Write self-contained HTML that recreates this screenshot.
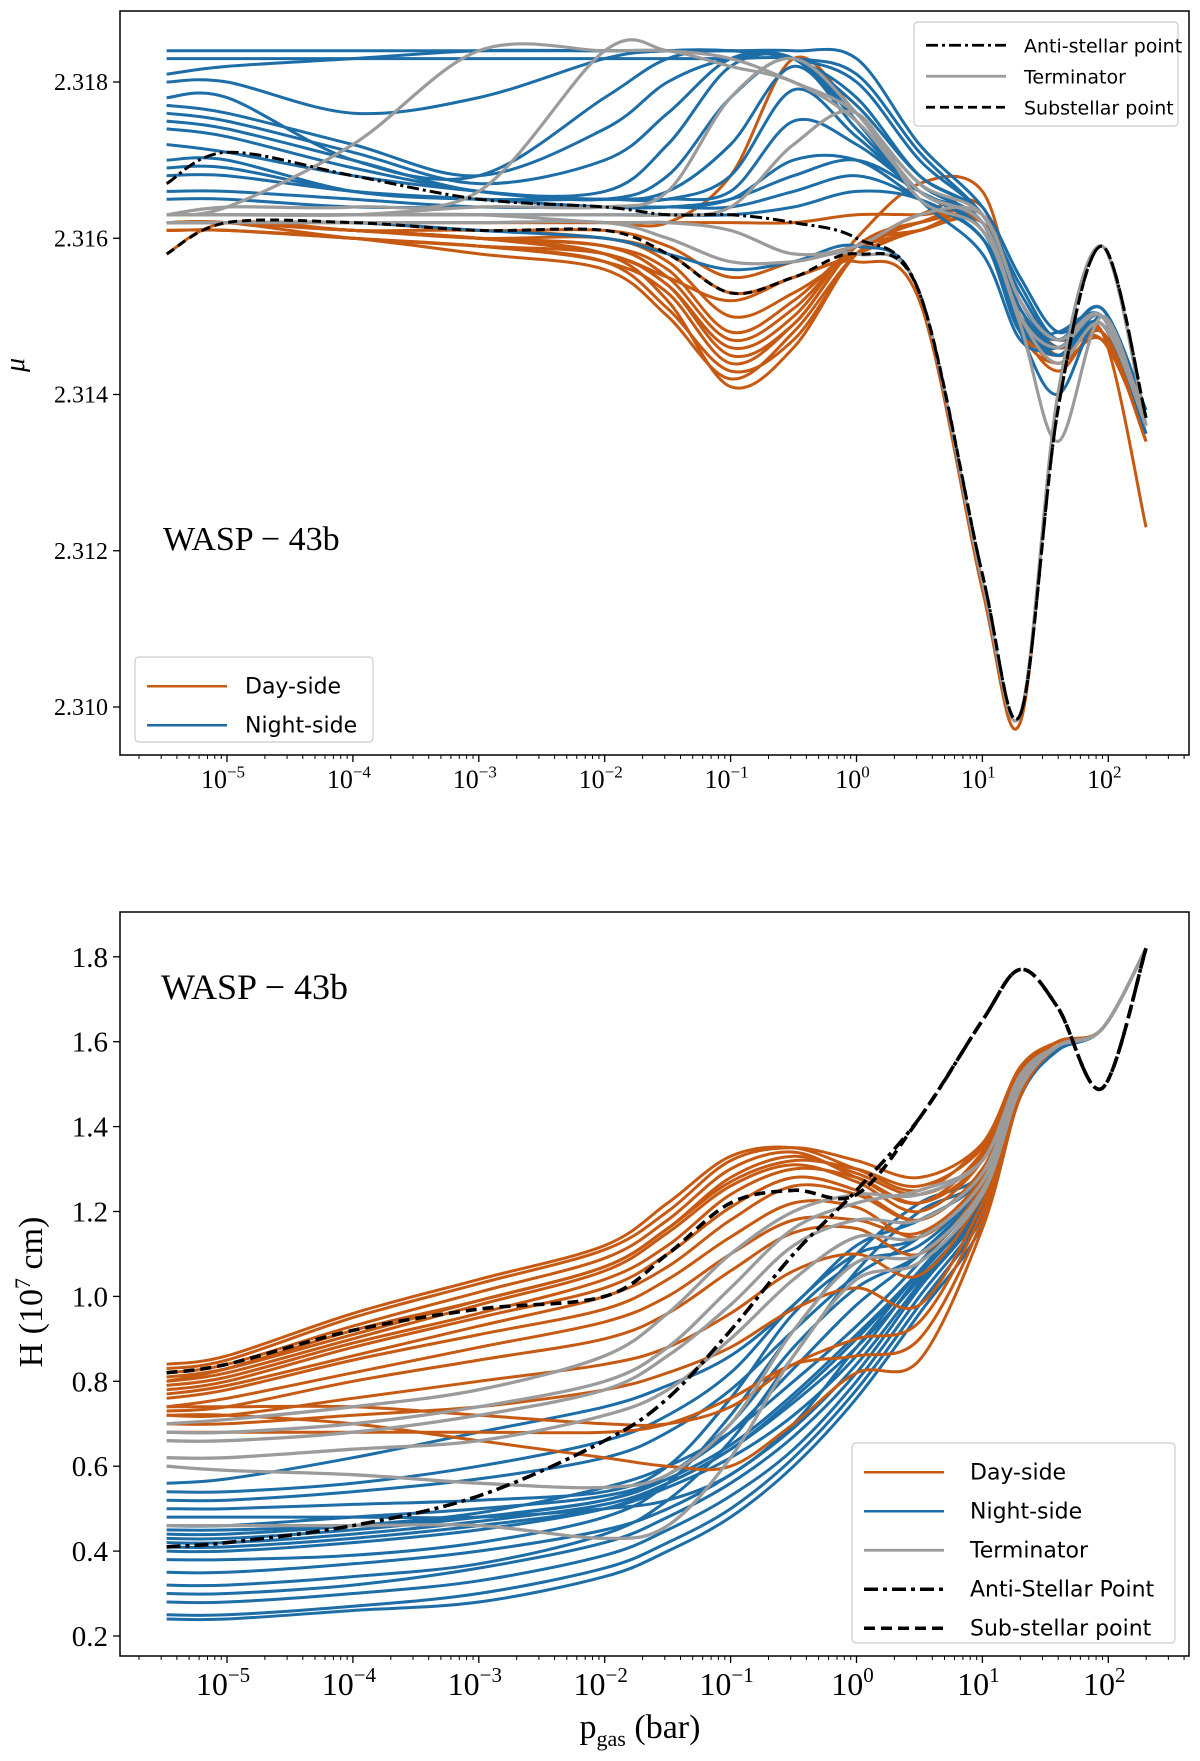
<!DOCTYPE html>
<html><head><meta charset="utf-8"><style>
body{margin:0;background:#fff;}
svg{display:block;}
text{font-family:"Liberation Serif",serif;fill:#000;}
.leg{font-family:"DejaVu Sans","Liberation Sans",sans-serif;}
</style></head><body>
<svg id="fig" width="1200" height="1761" viewBox="0 0 1200 1761" xmlns="http://www.w3.org/2000/svg"></svg>
<script>
// shared pressure grid (log10 bar)
const logP = [-5.48,-5,-4,-3,-2,-1.5,-1,-0.5,0,0.5,1,1.3,1.6,1.95,2.3];
const xTickExps = [-5,-4,-3,-2,-1,0,1,2];
// ---- top panel (mean molecular weight) ----
const muTicks = [2.310,2.312,2.314,2.316,2.318];
const muTickLabels = ["2.310","2.312","2.314","2.316","2.318"];
const muNight = [
[2.3184,2.3184,2.3184,2.3184,2.3184,2.3184,2.3184,2.3184,2.3183,2.3172,2.3164,2.3155,2.3148,2.3150,2.3137],
[2.3183,2.3183,2.3183,2.3183,2.3183,2.3183,2.3183,2.3183,2.3181,2.3171,2.3163,2.3154,2.3147,2.3150,2.3137],
[2.3181,2.3182,2.3183,2.3184,2.3184,2.3184,2.3184,2.3183,2.3180,2.3170,2.3163,2.3153,2.3147,2.3151,2.3138],
[2.3178,2.3178,2.3170,2.3168,2.3178,2.3183,2.3184,2.3183,2.3178,2.3168,2.3163,2.3152,2.3146,2.3150,2.3137],
[2.3175,2.3174,2.3170,2.3166,2.3166,2.3172,2.3182,2.3183,2.3176,2.3167,2.3162,2.3150,2.3146,2.3149,2.3136],
[2.3172,2.3171,2.3168,2.3166,2.3165,2.3166,2.3172,2.3182,2.3174,2.3166,2.3162,2.3148,2.3140,2.3150,2.3137],
[2.3170,2.3170,2.3166,2.3165,2.3165,2.3165,2.3166,2.3175,2.3172,2.3166,2.3161,2.3150,2.3145,2.3150,2.3136],
[2.3168,2.3168,2.3166,2.3165,2.3164,2.3164,2.3165,2.3168,2.3170,2.3166,2.3161,2.3149,2.3145,2.3149,2.3137],
[2.3166,2.3166,2.3165,2.3164,2.3164,2.3164,2.3164,2.3166,2.3168,2.3165,2.3160,2.3148,2.3148,2.3150,2.3138],
[2.3163,2.3163,2.3163,2.3163,2.3163,2.3163,2.3163,2.3164,2.3166,2.3165,2.3160,2.3150,2.3147,2.3150,2.3135],
[2.3177,2.3176,2.3172,2.3168,2.3174,2.3180,2.3183,2.3183,2.3175,2.3166,2.3162,2.3151,2.3146,2.3150,2.3137],
[2.3176,2.3175,2.3171,2.3167,2.3170,2.3176,2.3183,2.3183,2.3176,2.3167,2.3162,2.3151,2.3146,2.3150,2.3137],
[2.3180,2.3180,2.3176,2.3178,2.3183,2.3184,2.3184,2.3183,2.3177,2.3168,2.3163,2.3152,2.3147,2.3151,2.3137],
[2.3174,2.3173,2.3169,2.3166,2.3165,2.3168,2.3178,2.3183,2.3175,2.3165,2.3158,2.3147,2.3146,2.3149,2.3136],
[2.3169,2.3169,2.3166,2.3165,2.3165,2.3165,2.3168,2.3179,2.3173,2.3166,2.3161,2.3150,2.3145,2.3149,2.3136],
[2.3165,2.3165,2.3164,2.3164,2.3164,2.3164,2.3165,2.3170,2.3170,2.3165,2.3160,2.3149,2.3146,2.3150,2.3137],
[2.3162,2.3162,2.3162,2.3161,2.3160,2.3158,2.3156,2.3157,2.3159,2.3153,2.3116,2.3099,2.3140,2.3159,2.3136]
];
const muDay = [
[2.3162,2.3162,2.3161,2.3160,2.3158,2.3152,2.3141,2.3146,2.3158,2.3162,2.3163,2.3150,2.3145,2.3148,2.3123],
[2.3162,2.3162,2.3160,2.3159,2.3157,2.3153,2.3144,2.3149,2.3159,2.3162,2.3162,2.3148,2.3144,2.3147,2.3135],
[2.3162,2.3162,2.3161,2.3160,2.3159,2.3155,2.3147,2.3151,2.3159,2.3161,2.3162,2.3149,2.3146,2.3148,2.3134],
[2.3162,2.3162,2.3161,2.3160,2.3160,2.3157,2.3150,2.3153,2.3158,2.3161,2.3162,2.3150,2.3147,2.3147,2.3136],
[2.3162,2.3162,2.3161,2.3161,2.3160,2.3158,2.3153,2.3155,2.3158,2.3161,2.3162,2.3151,2.3145,2.3148,2.3137],
[2.3162,2.3162,2.3162,2.3161,2.3161,2.3159,2.3155,2.3157,2.3159,2.3161,2.3163,2.3150,2.3146,2.3149,2.3136],
[2.3161,2.3161,2.3160,2.3158,2.3156,2.3150,2.3142,2.3148,2.3158,2.3162,2.3163,2.3149,2.3143,2.3148,2.3134],
[2.3162,2.3162,2.3162,2.3162,2.3162,2.3162,2.3162,2.3162,2.3163,2.3163,2.3163,2.3152,2.3146,2.3148,2.3135],
[2.3162,2.3162,2.3162,2.3162,2.3162,2.3162,2.3168,2.3183,2.3176,2.3167,2.3162,2.3150,2.3146,2.3150,2.3135],
[2.3158,2.3162,2.3161,2.3160,2.3158,2.3155,2.3152,2.3155,2.3157,2.3152,2.3115,2.3098,2.3140,2.3159,2.3136],
[2.3161,2.3161,2.3160,2.3159,2.3158,2.3154,2.3146,2.3150,2.3160,2.3167,2.3166,2.3150,2.3144,2.3149,2.3136],
[2.3162,2.3162,2.3161,2.3160,2.3159,2.3156,2.3148,2.3152,2.3159,2.3162,2.3163,2.3150,2.3146,2.3148,2.3135],
[2.3161,2.3161,2.3160,2.3159,2.3157,2.3151,2.3143,2.3147,2.3158,2.3163,2.3164,2.3149,2.3145,2.3149,2.3136],
[2.3162,2.3162,2.3161,2.3160,2.3158,2.3154,2.3145,2.3149,2.3159,2.3162,2.3162,2.3150,2.3146,2.3147,2.3135]
];
const muTerm = [
[2.3163,2.3164,2.3172,2.3184,2.3184,2.3184,2.3183,2.3180,2.3176,2.3167,2.3163,2.3152,2.3147,2.3150,2.3136],
[2.3163,2.3164,2.3164,2.3166,2.3184,2.3184,2.3182,2.3180,2.3175,2.3166,2.3162,2.3150,2.3146,2.3150,2.3137],
[2.3163,2.3163,2.3163,2.3164,2.3164,2.3166,2.3178,2.3183,2.3176,2.3166,2.3162,2.3150,2.3144,2.3149,2.3136],
[2.3163,2.3163,2.3163,2.3163,2.3163,2.3163,2.3164,2.3172,2.3176,2.3165,2.3161,2.3149,2.3134,2.3150,2.3136],
[2.3162,2.3162,2.3162,2.3162,2.3162,2.3160,2.3157,2.3157,2.3158,2.3153,2.3116,2.3099,2.3140,2.3159,2.3136],
[2.3163,2.3163,2.3163,2.3163,2.3162,2.3162,2.3161,2.3158,2.3159,2.3163,2.3163,2.3152,2.3147,2.3150,2.3137]
];
const muAnti = [2.3167,2.3171,2.3168,2.3165,2.3164,2.3163,2.3163,2.3162,2.3160,2.3153,2.3117,2.3099,2.3138,2.3159,2.3137];
const muSub  = [2.3158,2.3162,2.3162,2.3161,2.3161,2.3158,2.3153,2.3155,2.3158,2.3153,2.3117,2.3099,2.3138,2.3159,2.3137];
// ---- bottom panel (scale height, 1e7 cm) ----
const hTicks = [0.2,0.4,0.6,0.8,1.0,1.2,1.4,1.6,1.8];
const hTickLabels = ["0.2","0.4","0.6","0.8","1.0","1.2","1.4","1.6","1.8"];
const hDay = [
[0.84,0.86,0.96,1.04,1.12,1.22,1.33,1.35,1.30,1.25,1.36,1.54,1.60,1.63,1.82],
[0.82,0.84,0.93,1.01,1.09,1.18,1.30,1.34,1.28,1.22,1.34,1.53,1.60,1.63,1.82],
[0.81,0.83,0.91,0.99,1.07,1.16,1.27,1.32,1.30,1.26,1.35,1.53,1.60,1.63,1.82],
[0.80,0.82,0.90,0.98,1.06,1.15,1.26,1.31,1.27,1.20,1.32,1.52,1.60,1.63,1.82],
[0.79,0.81,0.89,0.96,1.04,1.12,1.24,1.30,1.28,1.22,1.32,1.52,1.60,1.63,1.82],
[0.78,0.80,0.88,0.95,1.02,1.10,1.21,1.28,1.25,1.18,1.30,1.51,1.59,1.63,1.82],
[0.77,0.79,0.86,0.93,1.00,1.07,1.18,1.26,1.24,1.18,1.30,1.51,1.59,1.63,1.82],
[0.76,0.78,0.85,0.91,0.97,1.04,1.14,1.22,1.21,1.14,1.28,1.50,1.59,1.63,1.82],
[0.74,0.76,0.82,0.88,0.94,1.00,1.10,1.18,1.18,1.15,1.28,1.50,1.59,1.63,1.82],
[0.73,0.74,0.80,0.85,0.90,0.96,1.06,1.15,1.16,1.10,1.26,1.49,1.59,1.63,1.82],
[0.72,0.72,0.76,0.80,0.84,0.88,0.96,1.06,1.10,1.05,1.24,1.49,1.59,1.63,1.82],
[0.70,0.70,0.72,0.74,0.78,0.82,0.88,0.97,1.02,0.98,1.22,1.48,1.59,1.63,1.82],
[0.74,0.74,0.74,0.72,0.70,0.70,0.74,0.84,0.90,0.94,1.20,1.48,1.59,1.63,1.82],
[0.68,0.68,0.68,0.68,0.68,0.70,0.76,0.84,0.86,0.90,1.18,1.48,1.59,1.63,1.82],
[0.83,0.85,0.95,1.03,1.11,1.20,1.32,1.35,1.32,1.28,1.36,1.54,1.60,1.63,1.82],
[0.80,0.83,0.92,0.99,1.07,1.16,1.28,1.33,1.29,1.24,1.33,1.53,1.60,1.63,1.82],
[0.72,0.72,0.70,0.66,0.62,0.60,0.60,0.70,0.82,0.85,1.16,1.47,1.59,1.63,1.82]
];
const hNight = [
[0.24,0.24,0.26,0.28,0.34,0.40,0.48,0.60,0.76,0.96,1.17,1.47,1.58,1.63,1.82],
[0.25,0.25,0.27,0.30,0.36,0.42,0.50,0.62,0.78,0.98,1.19,1.47,1.58,1.63,1.82],
[0.28,0.28,0.30,0.33,0.39,0.45,0.53,0.64,0.80,1.00,1.20,1.48,1.58,1.63,1.82],
[0.30,0.30,0.32,0.36,0.42,0.48,0.56,0.67,0.82,1.02,1.21,1.48,1.59,1.63,1.82],
[0.35,0.35,0.37,0.40,0.45,0.50,0.58,0.69,0.84,1.03,1.22,1.48,1.59,1.63,1.82],
[0.41,0.41,0.43,0.46,0.50,0.55,0.62,0.72,0.86,1.05,1.23,1.49,1.59,1.63,1.82],
[0.42,0.42,0.44,0.47,0.51,0.56,0.64,0.75,0.88,1.04,1.22,1.48,1.59,1.63,1.82],
[0.43,0.43,0.45,0.48,0.52,0.57,0.65,0.77,0.91,1.06,1.24,1.49,1.59,1.63,1.82],
[0.44,0.44,0.46,0.49,0.55,0.60,0.68,0.80,0.93,1.08,1.25,1.49,1.59,1.63,1.82],
[0.45,0.45,0.46,0.48,0.52,0.58,0.68,0.83,0.98,1.10,1.26,1.49,1.59,1.63,1.82],
[0.46,0.46,0.48,0.50,0.53,0.58,0.70,0.88,1.02,1.10,1.26,1.49,1.59,1.63,1.82],
[0.50,0.50,0.51,0.52,0.54,0.60,0.76,0.96,1.08,1.12,1.27,1.50,1.59,1.63,1.82],
[0.52,0.52,0.54,0.57,0.62,0.68,0.78,0.92,1.05,1.14,1.27,1.50,1.59,1.63,1.82],
[0.54,0.54,0.56,0.60,0.66,0.72,0.82,0.98,1.10,1.14,1.28,1.50,1.59,1.63,1.82],
[0.56,0.57,0.62,0.68,0.74,0.79,0.86,0.98,1.12,1.18,1.28,1.50,1.59,1.63,1.82],
[0.48,0.48,0.48,0.48,0.50,0.52,0.58,0.70,0.88,1.06,1.24,1.49,1.59,1.63,1.82],
[0.38,0.38,0.39,0.42,0.48,0.56,0.72,0.92,1.10,1.22,1.29,1.50,1.59,1.63,1.82],
[0.32,0.32,0.34,0.37,0.44,0.52,0.66,0.86,1.06,1.20,1.28,1.50,1.59,1.63,1.82],
[0.40,0.40,0.42,0.45,0.50,0.56,0.64,0.76,0.90,1.06,1.23,1.49,1.59,1.63,1.82]
];
const hTerm = [
[0.70,0.71,0.74,0.78,0.86,0.96,1.10,1.20,1.24,1.24,1.32,1.52,1.59,1.63,1.82],
[0.66,0.66,0.68,0.72,0.78,0.86,0.98,1.12,1.18,1.18,1.29,1.51,1.59,1.63,1.82],
[0.62,0.62,0.64,0.66,0.72,0.78,0.90,1.04,1.14,1.14,1.27,1.50,1.59,1.63,1.82],
[0.60,0.59,0.58,0.56,0.55,0.58,0.70,0.92,1.08,1.10,1.25,1.49,1.59,1.63,1.82],
[0.46,0.46,0.46,0.46,0.43,0.46,0.62,0.86,1.04,1.08,1.24,1.49,1.59,1.63,1.82],
[0.68,0.68,0.70,0.74,0.80,0.88,1.02,1.16,1.22,1.25,1.32,1.52,1.59,1.63,1.82]
];
const hAnti = [0.41,0.42,0.46,0.53,0.66,0.76,0.92,1.10,1.25,1.42,1.65,1.77,1.68,1.49,1.82];
const hSub  = [0.82,0.84,0.92,0.97,1.00,1.10,1.22,1.25,1.24,1.42,1.65,1.77,1.68,1.49,1.82];

const NS='http://www.w3.org/2000/svg';
const svg=document.getElementById('fig');
const ORANGE='#c65a12', BLUE='#1d6da7', GRAY='#9b9b9b';
function el(tag,attrs,parent){const e=document.createElementNS(NS,tag);for(const k in attrs)e.setAttribute(k,attrs[k]);(parent||svg).appendChild(e);return e;}
const L=120,R=1189;
function xs(lp){return 227+(lp+5)*125.9;}
function smoothPath(pts){
  let d='M'+pts[0][0].toFixed(1)+','+pts[0][1].toFixed(1);
  for(let i=0;i<pts.length-1;i++){
    const p0=pts[Math.max(i-1,0)],p1=pts[i],p2=pts[i+1],p3=pts[Math.min(i+2,pts.length-1)];
    const c1=[p1[0]+(p2[0]-p0[0])/6,p1[1]+(p2[1]-p0[1])/6];
    const c2=[p2[0]-(p3[0]-p1[0])/6,p2[1]-(p3[1]-p1[1])/6];
    d+=' C'+c1[0].toFixed(1)+','+c1[1].toFixed(1)+' '+c2[0].toFixed(1)+','+c2[1].toFixed(1)+' '+p2[0].toFixed(1)+','+p2[1].toFixed(1);
  }
  return d;
}
function drawSeries(g,vals,ys,color,w,dash,name){
  const pts=vals.map((v,i)=>[xs(logP[i]),ys(v)]);
  const p=el('path',{d:smoothPath(pts),fill:'none',stroke:color,'stroke-width':w,'stroke-linejoin':'round'},g);
  if(dash)p.setAttribute('stroke-dasharray',dash);
  
  
}
function panel(y0,y1,ys,ticks,name){
  const g=el('g',{});
  
  
  const clip=el('clipPath',{id:'c'+y0},g);
  el('rect',{x:L,y:y0,width:R-L,height:y1-y0},clip);
  const lines=el('g',{'clip-path':'url(#c'+y0+')'},g);
  const fr=el('rect',{x:L,y:y0,width:R-L,height:y1-y0,fill:'none',stroke:'#000','stroke-width':1.5},g);
  
  
  ticks.forEach(tk=>{
    const y=ys(tk);
    el('line',{x1:L-7,x2:L,y1:y,y2:y,stroke:'#000','stroke-width':1.3},g);
  });
  for(let e=-6;e<=2;e++){
    for(let m=1;m<10;m++){
      const lp=e+Math.log10(m);const x=xs(lp);
      if(x<L||x>R)continue;
      el('line',{x1:x,x2:x,y1:y1,y2:y1+(m==1?7:4),stroke:'#000','stroke-width':m==1?1.3:1},g);
    }
  }
  return {g,lines};
}
function xLabels(g,y,fs,sup){
  xTickExps.forEach(e=>{
    const t=el('text',{x:xs(e)-4,y:y,'font-size':fs,'text-anchor':'middle'},g);
    
    
    t.appendChild(document.createTextNode('10'));
    const s=el('tspan',{dy:-fs*0.4,'font-size':sup},t);
    s.textContent=(e<0?'\u2212':'')+Math.abs(e);
  });
}
function legend(x,y,w,h,items,fs,rowH,name){
  const g=el('g',{});
  el('rect',{x:x,y:y,width:w,height:h,rx:4,fill:'#fff','fill-opacity':0.85,stroke:'#ccc','stroke-width':1.2},g);
  items.forEach((it,i)=>{
    const yy=y+rowH*0.75+i*rowH;
    const ln=el('line',{x1:x+12,x2:x+92,y1:yy,y2:yy,stroke:it[1],'stroke-width':it[3]||2.6},g);
    if(it[2])ln.setAttribute('stroke-dasharray',it[2]);
    const tx=el('text',{x:x+(w>300?118:110),y:yy+7,'font-size':fs,class:'leg'},g);tx.textContent=it[0];
    
  });
}
// ===== TOP =====
const muY=v=>707+(2.310-v)/0.002*156.25;
const topPanel=panel(11,755,muY,muTicks,'mu-panel');
muTicks.forEach((tk,i)=>{const tx=el('text',{x:L-12,y:muY(tk)+8,'font-size':24,'text-anchor':'end'},topPanel.g);tx.textContent=muTickLabels[i];
});
muDay.forEach(v=>drawSeries(topPanel.lines,v,muY,ORANGE,3,null,'day-side-line'));
muNight.forEach(v=>drawSeries(topPanel.lines,v,muY,BLUE,3,null,'night-side-line'));
muTerm.forEach(v=>drawSeries(topPanel.lines,v,muY,GRAY,3.2,null,'terminator-line'));
drawSeries(topPanel.lines,muSub,muY,'#000',3,'9,5','substellar-line');
drawSeries(topPanel.lines,muAnti,muY,'#000',3,'12,4,3,4','antistellar-line');
xLabels(topPanel.g,788,26,17);
let tt=el('text',{x:30,y:371,'font-size':28,'font-style':'italic','text-anchor':'middle',transform:'rotate(-90 24 371)'},topPanel.g);tt.textContent='μ';

tt=el('text',{x:163,y:550,'font-size':34},topPanel.g);tt.textContent='WASP \u2212 43b';

legend(914,22,264,104,[['Anti-stellar point','#000','12,4,3,4',2.8],['Terminator',GRAY,null,2.8],['Substellar point','#000','9,5',2.8]],19,31,'legend-top-right');
legend(135,657,238,85,[['Day-side',ORANGE],['Night-side',BLUE]],22,39,'legend-top-left');
// ===== BOTTOM =====
const hY=v=>1636-(v-0.2)/0.2*84.9;
const botPanel=panel(912,1656,hY,hTicks,'h-panel');
hTicks.forEach((tk,i)=>{const tx=el('text',{x:L-12,y:hY(tk)+10,'font-size':29,'text-anchor':'end'},botPanel.g);tx.textContent=hTickLabels[i];
});
hNight.forEach(v=>drawSeries(botPanel.lines,v,hY,BLUE,3,null,'night-side-line'));
hDay.forEach(v=>drawSeries(botPanel.lines,v,hY,ORANGE,3,null,'day-side-line'));
hTerm.forEach(v=>drawSeries(botPanel.lines,v,hY,GRAY,3.3,null,'terminator-line'));
drawSeries(botPanel.lines,hSub,hY,'#000',3.6,'11,6','substellar-line');
drawSeries(botPanel.lines,hAnti,hY,'#000',3.6,'14,5,4,5','antistellar-line');
xLabels(botPanel.g,1695,32,21);
tt=el('text',{x:0,y:0,'font-size':34,'text-anchor':'middle',transform:'translate(42 1292) rotate(-90)'},botPanel.g);

tt.appendChild(document.createTextNode('H (10'));
let sp=el('tspan',{dy:-12,'font-size':22},tt);sp.textContent='7';
sp=el('tspan',{dy:12},tt);sp.textContent=' cm)';
tt=el('text',{x:640,y:1738,'font-size':34,'text-anchor':'middle'},botPanel.g);

tt.appendChild(document.createTextNode('p'));
sp=el('tspan',{dy:8,'font-size':22},tt);sp.textContent='gas';
sp=el('tspan',{dy:-8},tt);sp.textContent=' (bar)';
tt=el('text',{x:161,y:999,'font-size':36},botPanel.g);tt.textContent='WASP \u2212 43b';

legend(852,1443,323,200,[['Day-side',ORANGE],['Night-side',BLUE],['Terminator',GRAY,null,2.8],['Anti-Stellar Point','#000','14,5,4,5',3.4],['Sub-stellar point','#000','11,6',3.4]],22,39,'legend-bottom');
</script>
</body></html>
